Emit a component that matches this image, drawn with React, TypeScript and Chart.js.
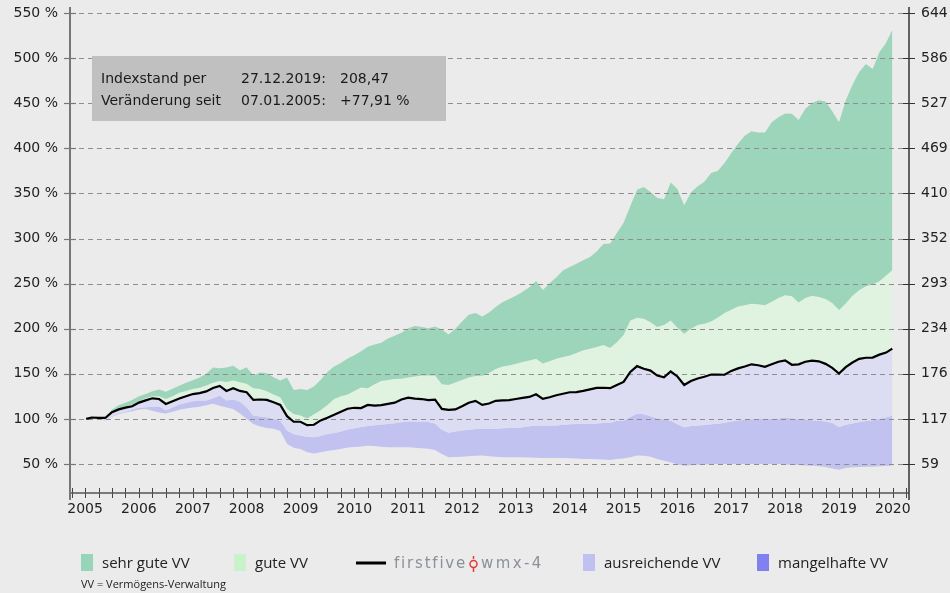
import React, { useEffect, useRef } from 'react';
import { Chart, registerables } from 'chart.js';

Chart.register(...registerables);

// ---- sampling positions (decimal years): 07.01.2005, then every 1/8 year, 27.12.2019
const X_START = 2005.02;
const X_END = 2019.99;
const X_STEP = 0.125;

// ---- firstfive wmx-4 index, in % of start value
const INDEX_LINE = [
  100, 101.5, 101.2, 101, 107.5, 110.5, 112.5, 114,
  118, 120.5, 122.8, 122, 116.5, 119.5, 122.5, 125,
  127.5, 128.5, 130.5, 134.2, 136.5, 131, 134, 131,
  129.5, 121, 121.5, 121, 118.5, 115.4, 103, 96.8,
  96.8, 93, 93.5, 98.3, 101.3, 104.5, 108, 111.2,
  112.3, 112, 115.5, 114.8, 115.3, 116.7, 118, 121.5,
  123.5, 122.5, 122, 120.8, 121.3, 111, 110, 110.5,
  114, 117.8, 120, 115.5, 117, 120, 120.4, 120.8,
  122, 123.2, 124.3, 127.3, 122.2, 124, 126.2, 127.8,
  129.5, 129.6, 131, 132.7, 134.4, 134.5, 134, 137.5,
  141, 152, 158.5, 155.5, 153.5, 148, 146, 152.5,
  147, 137.5, 142, 144.7, 146.7, 149.2, 149, 148.9,
  153.2, 156, 158, 160.5, 159.5, 157.8, 160.5, 163.3,
  164.8, 160, 160.5, 163.4, 164.6, 163.8, 161, 156.5,
  150.3, 157.4, 162.5, 166.5, 167.8, 168, 171.2, 173.5,
  177.91,
];

// ---- upper edge of "sehr gute VV"
const VERY_GOOD_TOP = [
  100, 102, 102, 102, 110.5, 115, 118, 121,
  125, 127.5, 130.5, 132.5, 130, 133.5, 136.8, 140,
  142.7, 146, 150, 157, 156, 157, 159, 154,
  157.3, 148, 151.5, 150.5, 146.2, 142.5, 146, 132,
  133, 132, 136, 143.5, 152, 158, 162, 167,
  170.5, 175, 180, 182.5, 184.3, 189, 192.3, 195.5,
  200.5, 203, 202, 200.5, 202.3, 199, 193.5, 200,
  208, 215.5, 217.3, 213.5, 218, 224, 229.2, 232.8,
  236.6, 241, 246, 253, 243, 250, 257, 264.6,
  268.4, 272, 276, 279.6, 285.5, 294, 294.5, 306,
  317.5, 336, 354, 357, 351.7, 345, 343.5, 362,
  355, 337, 351, 358, 362.9, 372.6, 375, 383.6,
  394.8, 405, 414, 419, 417.6, 417.5, 428.8, 434.5,
  438.6, 438.3, 431.5, 444, 450.3, 453.3, 452, 441,
  429, 453, 470.4, 484.5, 493.5, 488, 506.5, 517,
  531.5,
];

// ---- upper edge of "gute VV" (border to "sehr gute VV")
const GOOD_TOP = [
  100, 101.7, 101.5, 101.5, 108, 111.5, 113.5, 116,
  119.5, 123, 125, 125, 122, 125, 129, 131,
  133, 134.5, 137, 140, 142, 141, 142.6, 140.5,
  139, 134, 133, 130.5, 127, 124, 111, 105.5,
  103.7, 100.5, 105, 109.5, 115.5, 122, 125, 127,
  131, 134.8, 134, 138.5, 142, 143.2, 144.2, 144.6,
  146, 147, 148, 148, 148, 138.5, 137.5, 140.3,
  143, 146, 147.5, 147.8, 151, 155.3, 158, 159.2,
  161, 163, 164.6, 166.6, 161.3, 164, 166.6, 168.5,
  170.3, 173, 176, 177.8, 179.6, 182, 178.5, 185,
  193, 209, 212, 211, 207, 202, 204, 209,
  201, 194.5, 200, 204, 205.5, 208, 212.5, 217.5,
  221, 224.5, 226, 227.6, 227, 226, 230, 234,
  237, 236, 229, 234, 236.5, 235, 233, 228.5,
  220.6, 228, 236.5, 242.5, 247, 249, 252.5, 259,
  264.8,
];

// ---- lower edge of "ausreichende VV"
const SUFFICIENT_LOW = [
  100, 100.8, 100, 98.5, 103.3, 106, 108, 110,
  112.3, 113, 113.5, 113.7, 109.5, 112.5, 115.8, 118,
  119.5, 120.4, 120.4, 123, 126, 120.5, 121.5, 119,
  113, 103.7, 102.5, 101.9, 100, 98, 87, 83,
  81.5, 80.3, 79.6, 81, 83.3, 84.2, 86, 88.3,
  89.7, 91, 92.2, 93, 93.7, 94.2, 95.1, 96.2,
  97.2, 97.2, 97, 96.5, 95, 88, 84.5, 86,
  87, 87.8, 88.8, 88.9, 88.9, 88.9, 89.5, 89.8,
  90, 90.6, 91.8, 92.6, 92.6, 92.6, 92.6, 93.4,
  94, 94.4, 94.4, 94.4, 94.8, 95.5, 95.5, 98,
  98, 102, 106, 105, 103, 100.5, 99.5, 98,
  94, 90.8, 92, 92.7, 93.3, 94, 94.6, 95.8,
  97.2, 98.3, 99, 99.6, 100, 100, 100, 100.5,
  101.5, 100.5, 100, 99.5, 98.5, 98, 97, 95.5,
  91, 93.5, 95, 96.5, 97.5, 98.5, 100, 101.5,
  103.7,
];

// ---- lower edge of "mangelhafte VV"
const POOR_LOW = [
  100, 100.5, 99.8, 98, 102.3, 105, 107, 108.5,
  110.5, 111, 109, 107, 106, 108, 110, 111.5,
  112.5, 113.5, 115, 116.7, 114.5, 112.5, 111, 106,
  100, 94.4, 91.5, 90, 89, 86.5, 72, 68,
  66.7, 63, 61.5, 63, 64.5, 65.5, 66.7, 68.2,
  68.9, 69.5, 70.2, 70, 69.2, 68.6, 68.5, 68.5,
  68.5, 68, 67.4, 66.8, 65.5, 61, 57.5, 57.7,
  58.1, 58.5, 59, 59.3, 58.6, 58, 57.4, 57.4,
  57.4, 57.4, 57.2, 57, 56.7, 56.7, 56.7, 56.7,
  56.3, 56, 55.6, 55.6, 55.3, 55, 54.5, 55.5,
  56, 57.5, 59.5, 59, 58, 55.5, 53.5, 51.8,
  49.5, 48.1, 48.6, 49.1, 49.5, 50, 50, 50,
  50, 50, 50, 50, 50, 50, 50, 49.9,
  49.5, 49.1, 48.8, 48.4, 48, 47.4, 46.5, 45,
  43.5, 45.5, 46.4, 46.6, 46.8, 47, 47.5, 47.8,
  48.1,
];

// ---- axes
const Y_TICKS = [50, 100, 150, 200, 250, 300, 350, 400, 450, 500, 550];
const RIGHT_FACTOR = 1.1718; // index points per percent
const X_MIN = 2004.72;
const X_MAX = 2020.3;
const Y_MIN = 17.8;
const Y_MAX = 556.7;

const INFO_LINES = [
  ['Indexstand per', '27.12.2019:', '208,47'],
  ['Veränderung seit', '07.01.2005:', '+77,91 %'],
];

const LEGEND_ITEMS = [
  { label: 'sehr gute VV', color: '#98d4b8', x: 81 },
  { label: 'gute VV', color: '#c8f1cc', x: 234 },
  { label: 'ausreichende VV', color: '#c0c0f1', x: 583 },
  { label: 'mangelhafte VV', color: '#8080f0', x: 757 },
];
const FOOTNOTE = 'VV = Vermögens-Verwaltung';

const COLORS = {
  bg: '#ebebeb',
  veryGood: 'rgb(157,213,187)',
  good: 'rgb(224,243,224)',
  sufficient: 'rgb(220,220,243)',
  poor: 'rgb(194,194,241)',
};

const FONT = 'DejaVu Sans';

function xAt(i: number, n: number) {
  if (i === 0) return X_START;
  if (i === n - 1) return X_END;
  return 2005 + i * X_STEP;
}
function toPoints(arr: number[]) {
  return arr.map((y, i) => ({ x: xAt(i, arr.length), y }));
}
function quarterTicks() {
  const out: number[] = [];
  for (let q = 2004 * 4 + 3; q <= 2020 * 4 + 1; q++) out.push(q / 4);
  return out;
}
const X_TICKS = quarterTicks();

export default function App() {
  const ref = useRef<HTMLCanvasElement | null>(null);

  useEffect(() => {
    document.body.style.margin = '0';
    document.body.style.background = COLORS.bg;
    const canvas = ref.current;
    if (!canvas) return;

    const custom = {
      id: 'custom',
      beforeDraw(chart: any) {
        const { ctx, width, height } = chart;
        ctx.save();
        ctx.fillStyle = COLORS.bg;
        ctx.fillRect(0, 0, width, height);
        ctx.restore();
      },
      beforeDatasetDraw(chart: any, args: any) {
        if (args.index !== 0) return;
        const { ctx, chartArea: ca, scales } = chart;
        ctx.save();
        ctx.strokeStyle = '#8e8e8e';
        ctx.lineWidth = 1;
        ctx.setLineDash([5, 4]);
        for (const v of Y_TICKS) {
          const y = Math.round(scales.y.getPixelForValue(v)) + 0.5;
          ctx.beginPath();
          ctx.moveTo(ca.left, y);
          ctx.lineTo(ca.right, y);
          ctx.stroke();
        }
        ctx.restore();
      },
      afterDraw(chart: any) {
        const { ctx, chartArea: ca, scales } = chart;
        const line = (x1: number, y1: number, x2: number, y2: number) => {
          ctx.beginPath();
          ctx.moveTo(x1, y1);
          ctx.lineTo(x2, y2);
          ctx.stroke();
        };
        ctx.save();
        ctx.setLineDash([]);
        // x ticks (crossing)
        ctx.strokeStyle = '#444';
        ctx.lineWidth = 1;
        for (const v of X_TICKS) {
          const x = Math.round(scales.x.getPixelForValue(v)) + 0.5;
          line(x, ca.bottom - 5, x, ca.bottom + 5);
        }
        ctx.strokeStyle = '#555';
        ctx.lineWidth = 1.5;
        line(ca.left, ca.bottom, ca.right, ca.bottom);
        // left axis
        ctx.strokeStyle = '#777';
        ctx.lineWidth = 2;
        line(ca.left, ca.top, ca.left, ca.bottom + 7);
        ctx.lineWidth = 1.2;
        for (const v of Y_TICKS) {
          const y = Math.round(scales.y.getPixelForValue(v)) + 0.5;
          line(ca.left - 6, y, ca.left + 6, y);
        }
        // right axis
        ctx.strokeStyle = '#333';
        ctx.lineWidth = 1.5;
        line(ca.right, ca.top, ca.right, ca.bottom + 7);
        ctx.lineWidth = 1;
        for (const v of Y_TICKS) {
          const y = Math.round(scales.y.getPixelForValue(v)) + 0.5;
          line(ca.right - 6, y, ca.right + 6, y);
        }

        // info box
        ctx.fillStyle = '#c0c0c0';
        ctx.fillRect(92, 56, 354, 65);
        ctx.fillStyle = '#1a1a1a';
        ctx.font = `14px "${FONT}"`;
        ctx.textBaseline = 'middle';
        ctx.textAlign = 'left';
        const cols = [101, 241, 340];
        const rows = [79, 101];
        INFO_LINES.forEach((row, r) => {
          row.forEach((t, c) => ctx.fillText(t, cols[c], rows[r]));
        });

        // legend
        const ly = 563;
        ctx.font = '15px "Open Sans"';
        for (const it of LEGEND_ITEMS) {
          ctx.fillStyle = it.color;
          ctx.fillRect(it.x, 554, 12, 17);
          ctx.fillStyle = '#222';
          ctx.fillText(it.label, it.x + 21, ly + 1);
        }
        // index line entry
        ctx.strokeStyle = '#000';
        ctx.lineWidth = 3;
        line(356, ly, 386, ly);
        const drawSpaced = (text: string, x0: number, spacing: number) => {
          let x = x0;
          for (const ch of text) {
            ctx.fillText(ch, x, ly + 1);
            x += ctx.measureText(ch).width + spacing;
          }
          return x;
        };
        ctx.font = `15px "${FONT}"`;
        ctx.fillStyle = '#8b9198';
        drawSpaced('firstfive', 394, 1.8);
        ctx.strokeStyle = '#e53935';
        ctx.lineWidth = 1.5;
        ctx.beginPath();
        ctx.arc(473.5, ly + 1, 3.5, 0, Math.PI * 2);
        ctx.stroke();
        line(473.5, ly - 7, 473.5, ly - 4);
        line(473.5, ly + 5, 473.5, ly + 9);
        ctx.fillStyle = '#8b9198';
        drawSpaced('wmx-4', 481, 2.4);

        ctx.fillStyle = '#222';
        ctx.font = '11px "Open Sans"';
        ctx.fillText(FOOTNOTE, 81, 585);
        ctx.restore();
      },
    };

    const boundary = (data: number[], fill: any, color: string) => ({
      data: toPoints(data),
      borderWidth: 0,
      pointRadius: 0,
      backgroundColor: color,
      fill,
    });

    const chart = new Chart(canvas, {
      type: 'line',
      data: {
        datasets: [
          {
            label: 'firstfive wmx-4',
            data: toPoints(INDEX_LINE),
            borderColor: '#000',
            borderWidth: 2.2,
            pointRadius: 0,
            fill: false,
          } as any,
          boundary(VERY_GOOD_TOP, 2, COLORS.veryGood),
          boundary(GOOD_TOP, 0, COLORS.good),
          boundary(SUFFICIENT_LOW, 0, COLORS.sufficient),
          boundary(POOR_LOW, 3, COLORS.poor),
        ],
      },
      options: {
        responsive: false,
        animation: false,
        devicePixelRatio: 1,
        layout: { padding: { top: 7, left: 0, right: 0, bottom: 0 } },
        plugins: { legend: { display: false }, tooltip: { enabled: false } },
        elements: { line: { tension: 0 }, point: { radius: 0 } },
        scales: {
          x: {
            type: 'linear',
            min: X_MIN,
            max: X_MAX,
            afterBuildTicks: (s: any) => {
              s.ticks = X_TICKS.map((v) => ({ value: v }));
            },
            afterFit: (s: any) => {
              s.height = 100;
              s.paddingLeft = 0;
              s.paddingRight = 0;
            },
            ticks: {
              autoSkip: false,
              maxRotation: 0,
              minRotation: 0,
              padding: 8,
              color: '#222',
              font: { family: FONT, size: 14 },
              callback: (v: any) => (Number.isInteger(v) ? String(v) : ''),
            },
            grid: { display: false, drawTicks: false },
            border: { display: false },
          },
          y: {
            position: 'left',
            min: Y_MIN,
            max: Y_MAX,
            afterBuildTicks: (s: any) => {
              s.ticks = Y_TICKS.map((v) => ({ value: v }));
            },
            afterFit: (s: any) => {
              s.width = 70;
              s.paddingTop = 0;
              s.paddingBottom = 0;
            },
            ticks: {
              padding: 12,
              color: '#222',
              font: { family: FONT, size: 14 },
              callback: (v: any) => `${v} %`,
            },
            grid: { display: false, drawTicks: false },
            border: { display: false },
          },
          yR: {
            position: 'right',
            min: Y_MIN,
            max: Y_MAX,
            afterBuildTicks: (s: any) => {
              s.ticks = Y_TICKS.map((v) => ({ value: v }));
            },
            afterFit: (s: any) => {
              s.width = 41;
              s.paddingTop = 0;
              s.paddingBottom = 0;
            },
            ticks: {
              padding: 12,
              color: '#222',
              font: { family: FONT, size: 14 },
              callback: (v: any) => String(Math.round(v * RIGHT_FACTOR)),
            },
            grid: { display: false, drawTicks: false },
            border: { display: false },
          },
        },
      } as any,
      plugins: [custom],
    });

    return () => chart.destroy();
  }, []);

  return (
    <div style={{ width: 950, height: 593, background: COLORS.bg }}>
      <canvas ref={ref} width={950} height={593} style={{ display: 'block' }} />
    </div>
  );
}
